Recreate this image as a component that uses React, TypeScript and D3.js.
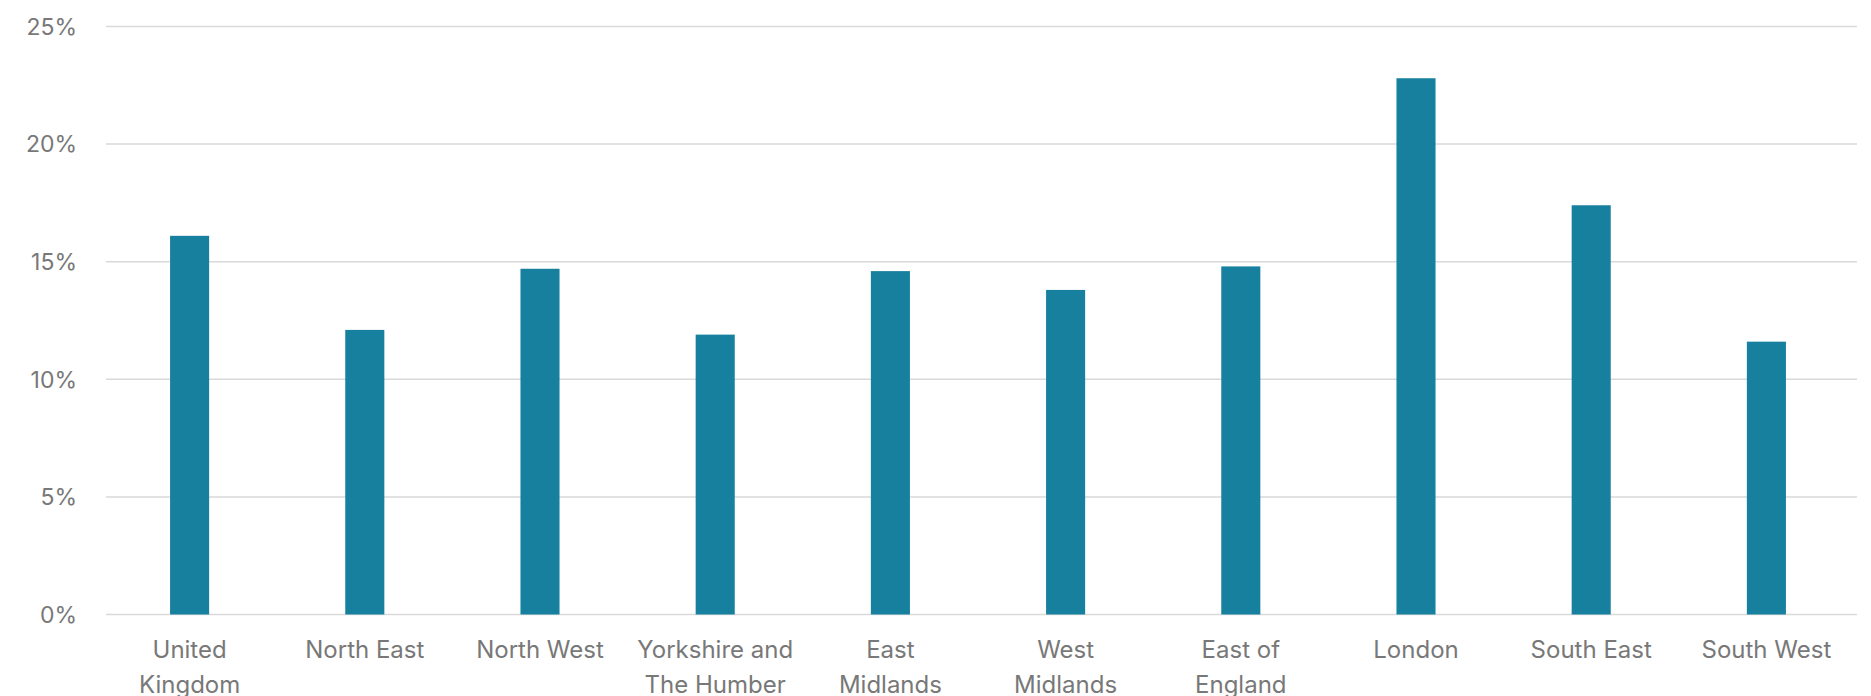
import React, { useEffect, useRef } from "react";
import * as d3 from "d3";

// Regions shown along the x axis (multi-line labels split on "|")
const regions = [
  "United|Kingdom",
  "North East",
  "North West",
  "Yorkshire and|The Humber",
  "East|Midlands",
  "West|Midlands",
  "East of|England",
  "London",
  "South East",
  "South West",
];

// Share per region, in percent
const shares = [16.1, 12.1, 14.7, 11.9, 14.6, 13.8, 14.8, 22.8, 17.4, 11.6];

// Y axis ticks, in percent
const yTicks = [0, 5, 10, 15, 20, 25];

const WIDTH = 1871;
const HEIGHT = 696;

export default function App() {
  const ref = useRef<SVGSVGElement | null>(null);

  useEffect(() => {
    const svg = d3.select(ref.current);
    svg.selectAll("*").remove();

    const x = d3.scaleBand<string>().domain(regions).range([102, 1854]).paddingInner(0.777).paddingOuter(0.3885);
    const y = d3.scaleLinear().domain([0, 25]).range([614.5, 26.5]);

    const font = "Inter, 'DejaVu Sans', sans-serif";
    const textColor = "#787878";

    // gridlines
    svg
      .append("g")
      .selectAll("line")
      .data(yTicks)
      .join("line")
      .attr("x1", 106)
      .attr("x2", 1857)
      .attr("y1", (d) => y(d))
      .attr("y2", (d) => y(d))
      .attr("stroke", "#d9d9d9")
      .attr("stroke-width", 1.5);

    // y tick labels
    svg
      .append("g")
      .selectAll("text")
      .data(yTicks)
      .join("text")
      .attr("x", 77)
      .attr("y", (d) => y(d))
      .attr("dy", "0.36em")
      .attr("text-anchor", "end")
      .attr("font-family", font)
      .attr("font-size", 23)
      .attr("fill", textColor)
      .text((d) => `${d}%`);

    // bars
    svg
      .append("g")
      .selectAll("rect")
      .data(regions.map((r, i) => ({ r, v: shares[i] })))
      .join("rect")
      .attr("x", (d) => x(d.r)!)
      .attr("width", x.bandwidth())
      .attr("y", (d) => y(d.v))
      .attr("height", (d) => y(0) - y(d.v))
      .attr("fill", "#17809f");

    // x labels
    const labels = svg
      .append("g")
      .selectAll("text")
      .data(regions)
      .join("text")
      .attr("text-anchor", "middle")
      .attr("font-family", font)
      .attr("font-size", 24)
      .attr("fill", textColor)
      .attr("transform", (d) => `translate(${x(d)! + x.bandwidth() / 2},658)`);

    labels
      .selectAll("tspan")
      .data((d) => d.split("|"))
      .join("tspan")
      .attr("x", 0)
      .attr("y", (_, i) => i * 35)
      .text((d) => d);
  }, []);

  return (
    <svg
      ref={ref}
      width={WIDTH}
      height={HEIGHT}
      style={{ position: "absolute", left: 0, top: 0, background: "#fff" }}
    />
  );
}
